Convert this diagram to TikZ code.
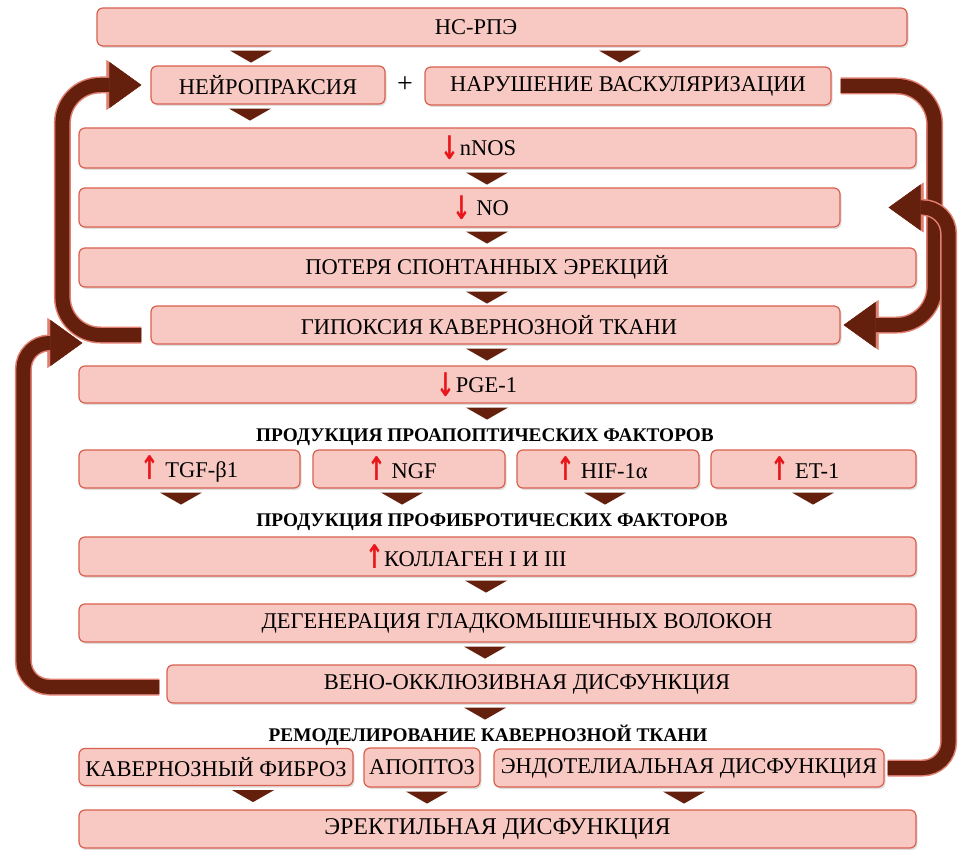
\documentclass[tikz,border=0pt]{standalone}
\usepackage{fontspec}
\usepackage{graphicx}
\setmainfont{Liberation Serif}
\newfontfamily\arrfont{DejaVu Sans}
\usetikzlibrary{arrows.meta,shadows}

\definecolor{boxfill}{HTML}{F8C9C3}
\definecolor{boxline}{HTML}{D9604E}
\definecolor{darkbrown}{HTML}{65200D}
\definecolor{arrred}{HTML}{E8161B}

\newcommand{\uparr}{\raisebox{-2pt}{\scalebox{1}[1.45]{\arrfont\bfseries\textcolor{arrred}{↑}}}}
\newcommand{\dnarr}{\raisebox{-4pt}{\scalebox{1}[1.45]{\arrfont\bfseries\textcolor{arrred}{↓}}}}
\newcommand{\bigarrow}[2][30pt]{\draw[bigout, rounded corners=#1] #2; \draw[bigin, rounded corners=#1] #2;}

\tikzset{
  box/.style={draw=boxline, fill=boxfill, line width=1.2pt, rounded corners=6pt,
    drop shadow={opacity=0.25, shadow xshift=1.5pt, shadow yshift=-2pt},
    minimum height=38pt, inner sep=0pt, font=\fontsize{22.5}{26}\selectfont},
  tx/.style={execute at begin node={\hspace*{#1}}},
  head/.style={font=\fontsize{19.3}{22}\selectfont\bfseries},
  tri/.style={fill=darkbrown},
  bigin/.style={draw=darkbrown, line width=14pt,
    -{Triangle[width=46pt,length=32pt,line width=0.5pt]}},
  bigout/.style={draw=boxline!80, line width=17pt,
    -{Triangle[width=50pt,length=35pt,line width=0.5pt]}},
}

\begin{document}
\begin{tikzpicture}[x=1pt,y=-1pt]
\useasboundingbox (0,0) rectangle (963,850);

% cause and first consequences
\node[box, tx=-52pt, minimum width=810pt] (nc) at (502,27) {НС-РПЭ};
\node[box, minimum width=234pt] (neur) at (268,85) {НЕЙРОПРАКСИЯ};
\node[font=\fontsize{28}{30}\selectfont] (plus) at (405,85) {+};
\node[box, minimum width=406pt] (vasc) at (628,86) {НАРУШЕНИЕ ВАСКУЛЯРИЗАЦИИ};

% main column
\node[box, tx=-38pt, minimum width=837pt, minimum height=40pt] (nnos) at (497.5,148) {\dnarr nNOS};
\node[box, tx=42pt, minimum width=761pt, minimum height=39pt] (no) at (459.5,207.5) {\dnarr\ NO};
\node[box, tx=-21pt, minimum width=837pt, minimum height=39pt] (spont) at (497.5,267.5) {ПОТЕРЯ СПОНТАННЫХ ЭРЕКЦИЙ};
\node[box, tx=-13pt, minimum width=689pt] (hyp) at (495.5,325) {ГИПОКСИЯ КАВЕРНОЗНОЙ ТКАНИ};
\node[box, tx=-41pt, minimum width=837pt, minimum height=37pt] (pge) at (497.5,384.5) {\dnarr PGE-1};

% proapoptotic factors
\node[head] (hapo) at (485,437) {ПРОДУКЦИЯ ПРОАПОПТИЧЕСКИХ ФАКТОРОВ};
\node[box, minimum width=221pt] (tgf) at (189.5,469) {\uparr\ TGF-β1};
\node[box, tx=-14pt, minimum width=192pt] (ngf) at (409,469) {\uparr\ NGF};
\node[box, tx=-12pt, minimum width=182pt] (hif) at (608,469) {\uparr\ HIF-1α};
\node[box, tx=-17pt, minimum width=205pt] (et) at (813.5,469) {\uparr\ ET-1};

% profibrotic factors
\node[head] (hfib) at (492,522) {ПРОДУКЦИЯ ПРОФИБРОТИЧЕСКИХ ФАКТОРОВ};
\node[box, tx=-63pt, minimum width=837pt, minimum height=39pt] (coll) at (497.5,556.5) {\uparr КОЛЛАГЕН I И III};
\node[box, tx=39pt, minimum width=837pt] (degen) at (497.5,623) {ДЕГЕНЕРАЦИЯ ГЛАДКОМЫШЕЧНЫХ ВОЛОКОН};
\node[box, tx=-29pt, minimum width=749pt] (veno) at (541.5,684) {ВЕНО-ОККЛЮЗИВНАЯ ДИСФУНКЦИЯ};

% remodelling
\node[head] (hrem) at (488,735) {РЕМОДЕЛИРОВАНИЕ КАВЕРНОЗНОЙ ТКАНИ};
\node[box, minimum width=274pt, minimum height=37pt] (fib) at (216,767) {КАВЕРНОЗНЫЙ ФИБРОЗ};
\node[box, minimum width=116pt, minimum height=39pt] (apo) at (422,767.5) {АПОПТОЗ};
\node[box, minimum width=390pt] (endo) at (689,768) {ЭНДОТЕЛИАЛЬНАЯ ДИСФУНКЦИЯ};
\node[box, minimum width=837pt, font=\fontsize{24}{28}\selectfont] (ed) at (497.5,829) {ЭРЕКТИЛЬНАЯ ДИСФУНКЦИЯ};

% small down triangles
\foreach \a/\x in {nc/251, nc/620, neur/250, nnos/487, no/487, spont/487, hyp/487,
    pge/487, tgf/181, ngf/402, hif/605, et/813, coll/486, degen/485, veno/485,
    fib/253, apo/427, endo/684}
  \fill[tri] (\x,0 |- \a.south) ++(-21,4) -- ++(42,0) -- ++(-21,12) -- cycle;

% feedback loops
\bigarrow[38pt]{([shift={(-9,10)}]hyp.west) -| ([xshift=-88pt]neur.west) -- ([xshift=-9pt]neur.west)}
\bigarrow[38pt]{([xshift=9pt]vasc.east) -- ++(94,0) |- ([xshift=3pt]hyp.east)}
\bigarrow[26pt]{([shift={(-7,3)}]veno.west) -- ++(-136,0) |- ([shift={(-68,18)}]hyp.west)}
\bigarrow[26pt]{([xshift=3pt]endo.east) -- ++(61,0) |- ([xshift=48pt]no.east)}
\end{tikzpicture}
\end{document}
